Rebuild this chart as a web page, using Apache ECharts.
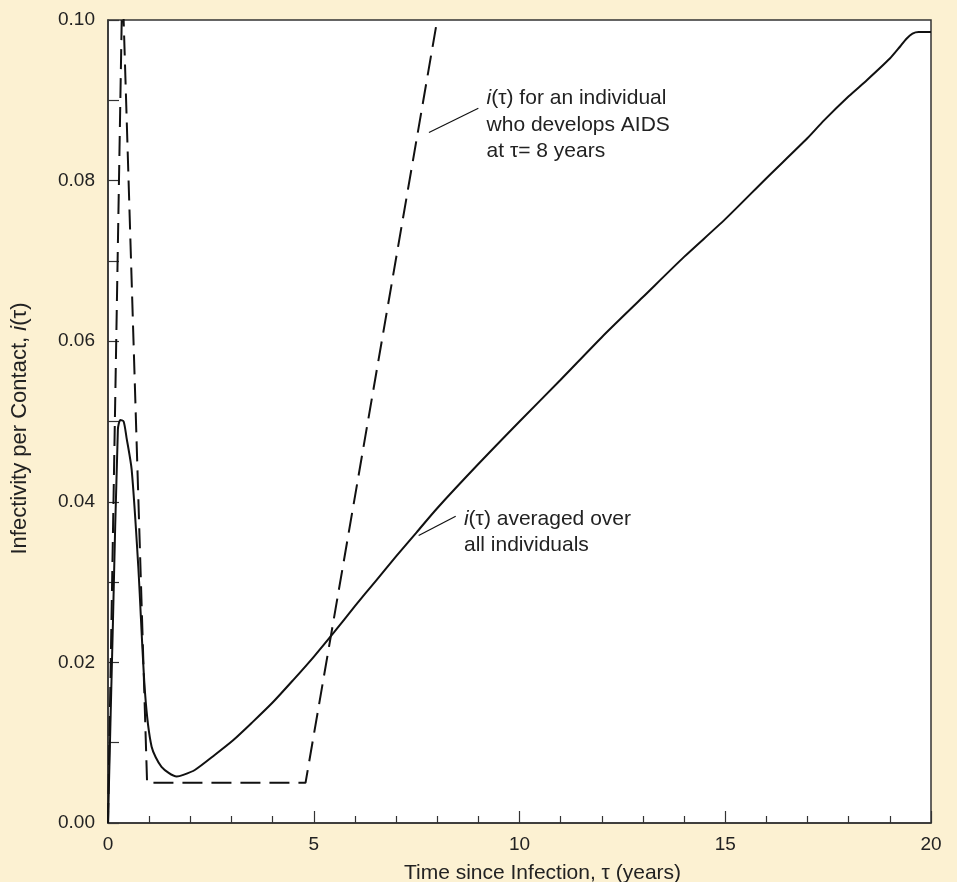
<!DOCTYPE html>
<html>
<head>
<meta charset="utf-8">
<script src="https://cdn.jsdelivr.net/npm/echarts@6/dist/echarts.min.js"></script>
<style>
  html, body { margin: 0; padding: 0; background: #fcf1d2; }
  #chart { width: 957px; height: 882px; }
</style>
</head>
<body>
<div id="chart"></div>
<script>
// averaged infectivity curve (solid)
const avgYears = [0, 0.12, 0.24, 0.3, 0.38, 0.45, 0.575, 0.735, 0.9, 1.06, 1.3, 1.67, 1.83, 2.11, 2.6, 3.04, 3.5, 4.0, 4.5, 5.0, 5.5, 6.0, 6.5, 7.0, 7.5, 8.0, 9.0, 10.0, 11.0, 12.0, 13.0, 14.0, 15.0, 16.0, 17.0, 17.4, 18.0, 18.44, 19.0, 19.25, 19.41, 19.55, 19.7, 20];
const avgInfectivity = [0, 0.025, 0.049, 0.0502, 0.050, 0.048, 0.044, 0.032, 0.0162, 0.0095, 0.0070, 0.0058, 0.0060, 0.0066, 0.0085, 0.0103, 0.0125, 0.0150, 0.0178, 0.0207, 0.0238, 0.0270, 0.0301, 0.0332, 0.0362, 0.0392, 0.0447, 0.0500, 0.0552, 0.0605, 0.0655, 0.0705, 0.0752, 0.0803, 0.0853, 0.0875, 0.0905, 0.0925, 0.0952, 0.0967, 0.0977, 0.0983, 0.0985, 0.0985];

// individual who develops AIDS at 8 years (dashed)
const aidsYears = [0, 0.35, 0.95, 4.8, 8.0];
const aidsInfectivity = [0, 0.105, 0.005, 0.005, 0.10];

const xTickLabels = ['0', '5', '10', '15', '20'];
const yTickLabels = ['0.00', '0.02', '0.04', '0.06', '0.08', '0.10'];

const FONT = "'Liberation Sans', Arial, Helvetica, sans-serif";
const INK = '#222';

const chart = echarts.init(document.getElementById('chart'));

const option = {
  backgroundColor: '#fcf1d2',
  animation: false,
  textStyle: { fontFamily: FONT },
  grid: {
    left: 108,
    right: 26,
    top: 20,
    bottom: 59,
    outerBoundsMode: 'none',
    show: true,
    backgroundColor: '#ffffff',
    borderColor: '#333',
    borderWidth: 1.5
  },
  xAxis: {
    type: 'value',
    min: 0,
    max: 20,
    interval: 5,
    name: 'Time since Infection, τ (years)',
    nameLocation: 'middle',
    nameGap: 40,
    nameTextStyle: { fontSize: 21, color: INK, fontFamily: FONT, padding: [0, 0, 0, 46] },
    axisLine: { lineStyle: { color: '#333', width: 1.5 } },
    axisTick: { inside: true, length: 12, lineStyle: { color: '#333', width: 1.2 } },
    minorTick: { show: true, splitNumber: 5, length: 7, lineStyle: { color: '#333', width: 1.2 } },
    splitLine: { show: false },
    axisLabel: {
      fontSize: 19, color: INK, fontFamily: FONT, margin: 12,
      formatter: v => xTickLabels[Math.round(v / 5)]
    }
  },
  yAxis: {
    type: 'value',
    min: 0,
    max: 0.1,
    interval: 0.02,
    name: 'Infectivity per Contact, {it|i}(τ)',
    nameLocation: 'middle',
    nameGap: 77,
    nameTextStyle: {
      fontSize: 22, color: INK, fontFamily: FONT, padding: [0, 14, 0, 0],
      rich: { it: { fontSize: 22, color: INK, fontStyle: 'italic', fontFamily: FONT } }
    },
    axisLine: { lineStyle: { color: '#333', width: 1.5 } },
    axisTick: { inside: true, length: 11, lineStyle: { color: '#333', width: 1.2 } },
    minorTick: { show: true, splitNumber: 2, length: 11, lineStyle: { color: '#333', width: 1.2 } },
    splitLine: { show: false },
    axisLabel: {
      fontSize: 19, color: INK, fontFamily: FONT, margin: 13,
      formatter: v => yTickLabels[Math.round(v / 0.02)]
    }
  },
  series: [
    {
      name: 'averaged',
      type: 'line',
      data: avgYears.map((x, i) => [x, avgInfectivity[i]]),
      showSymbol: false,
      smooth: 0.25,
      lineStyle: { color: '#111', width: 2 },
      clip: true
    },
    {
      name: 'aids',
      type: 'line',
      data: aidsYears.map((x, i) => [x, aidsInfectivity[i]]),
      showSymbol: false,
      lineStyle: { color: '#111', width: 2, type: [20, 9] },
      clip: true
    }
  ]
};

chart.setOption(option);

// annotations, placed in data space
const px = (x, y) => chart.convertToPixel({ gridIndex: 0 }, [x, y]);
const rich = { it: { fontStyle: 'italic', fontSize: 21, fontFamily: FONT, fill: INK } };
const a1 = px(9.2, 0.0919);
const l1a = px(7.8, 0.0860), l1b = px(9.0, 0.0890);
const a2 = px(8.65, 0.0395);
const l2a = px(7.55, 0.0358), l2b = px(8.45, 0.0382);

chart.setOption({
  graphic: [
    {
      type: 'text', x: a1[0], y: a1[1],
      style: {
        text: '{it|i}(τ) for an individual\nwho develops AIDS\nat τ= 8 years',
        font: '21px ' + FONT, fill: INK, lineHeight: 26.5, rich
      }
    },
    {
      type: 'line',
      shape: { x1: l1a[0], y1: l1a[1], x2: l1b[0], y2: l1b[1] },
      style: { stroke: '#111', lineWidth: 1.2 }
    },
    {
      type: 'text', x: a2[0], y: a2[1],
      style: {
        text: '{it|i}(τ) averaged over\nall individuals',
        font: '21px ' + FONT, fill: INK, lineHeight: 26.5, rich
      }
    },
    {
      type: 'line',
      shape: { x1: l2a[0], y1: l2a[1], x2: l2b[0], y2: l2b[1] },
      style: { stroke: '#111', lineWidth: 1.2 }
    }
  ]
});

window.addEventListener('resize', () => chart.resize());
</script>
</body>
</html>
